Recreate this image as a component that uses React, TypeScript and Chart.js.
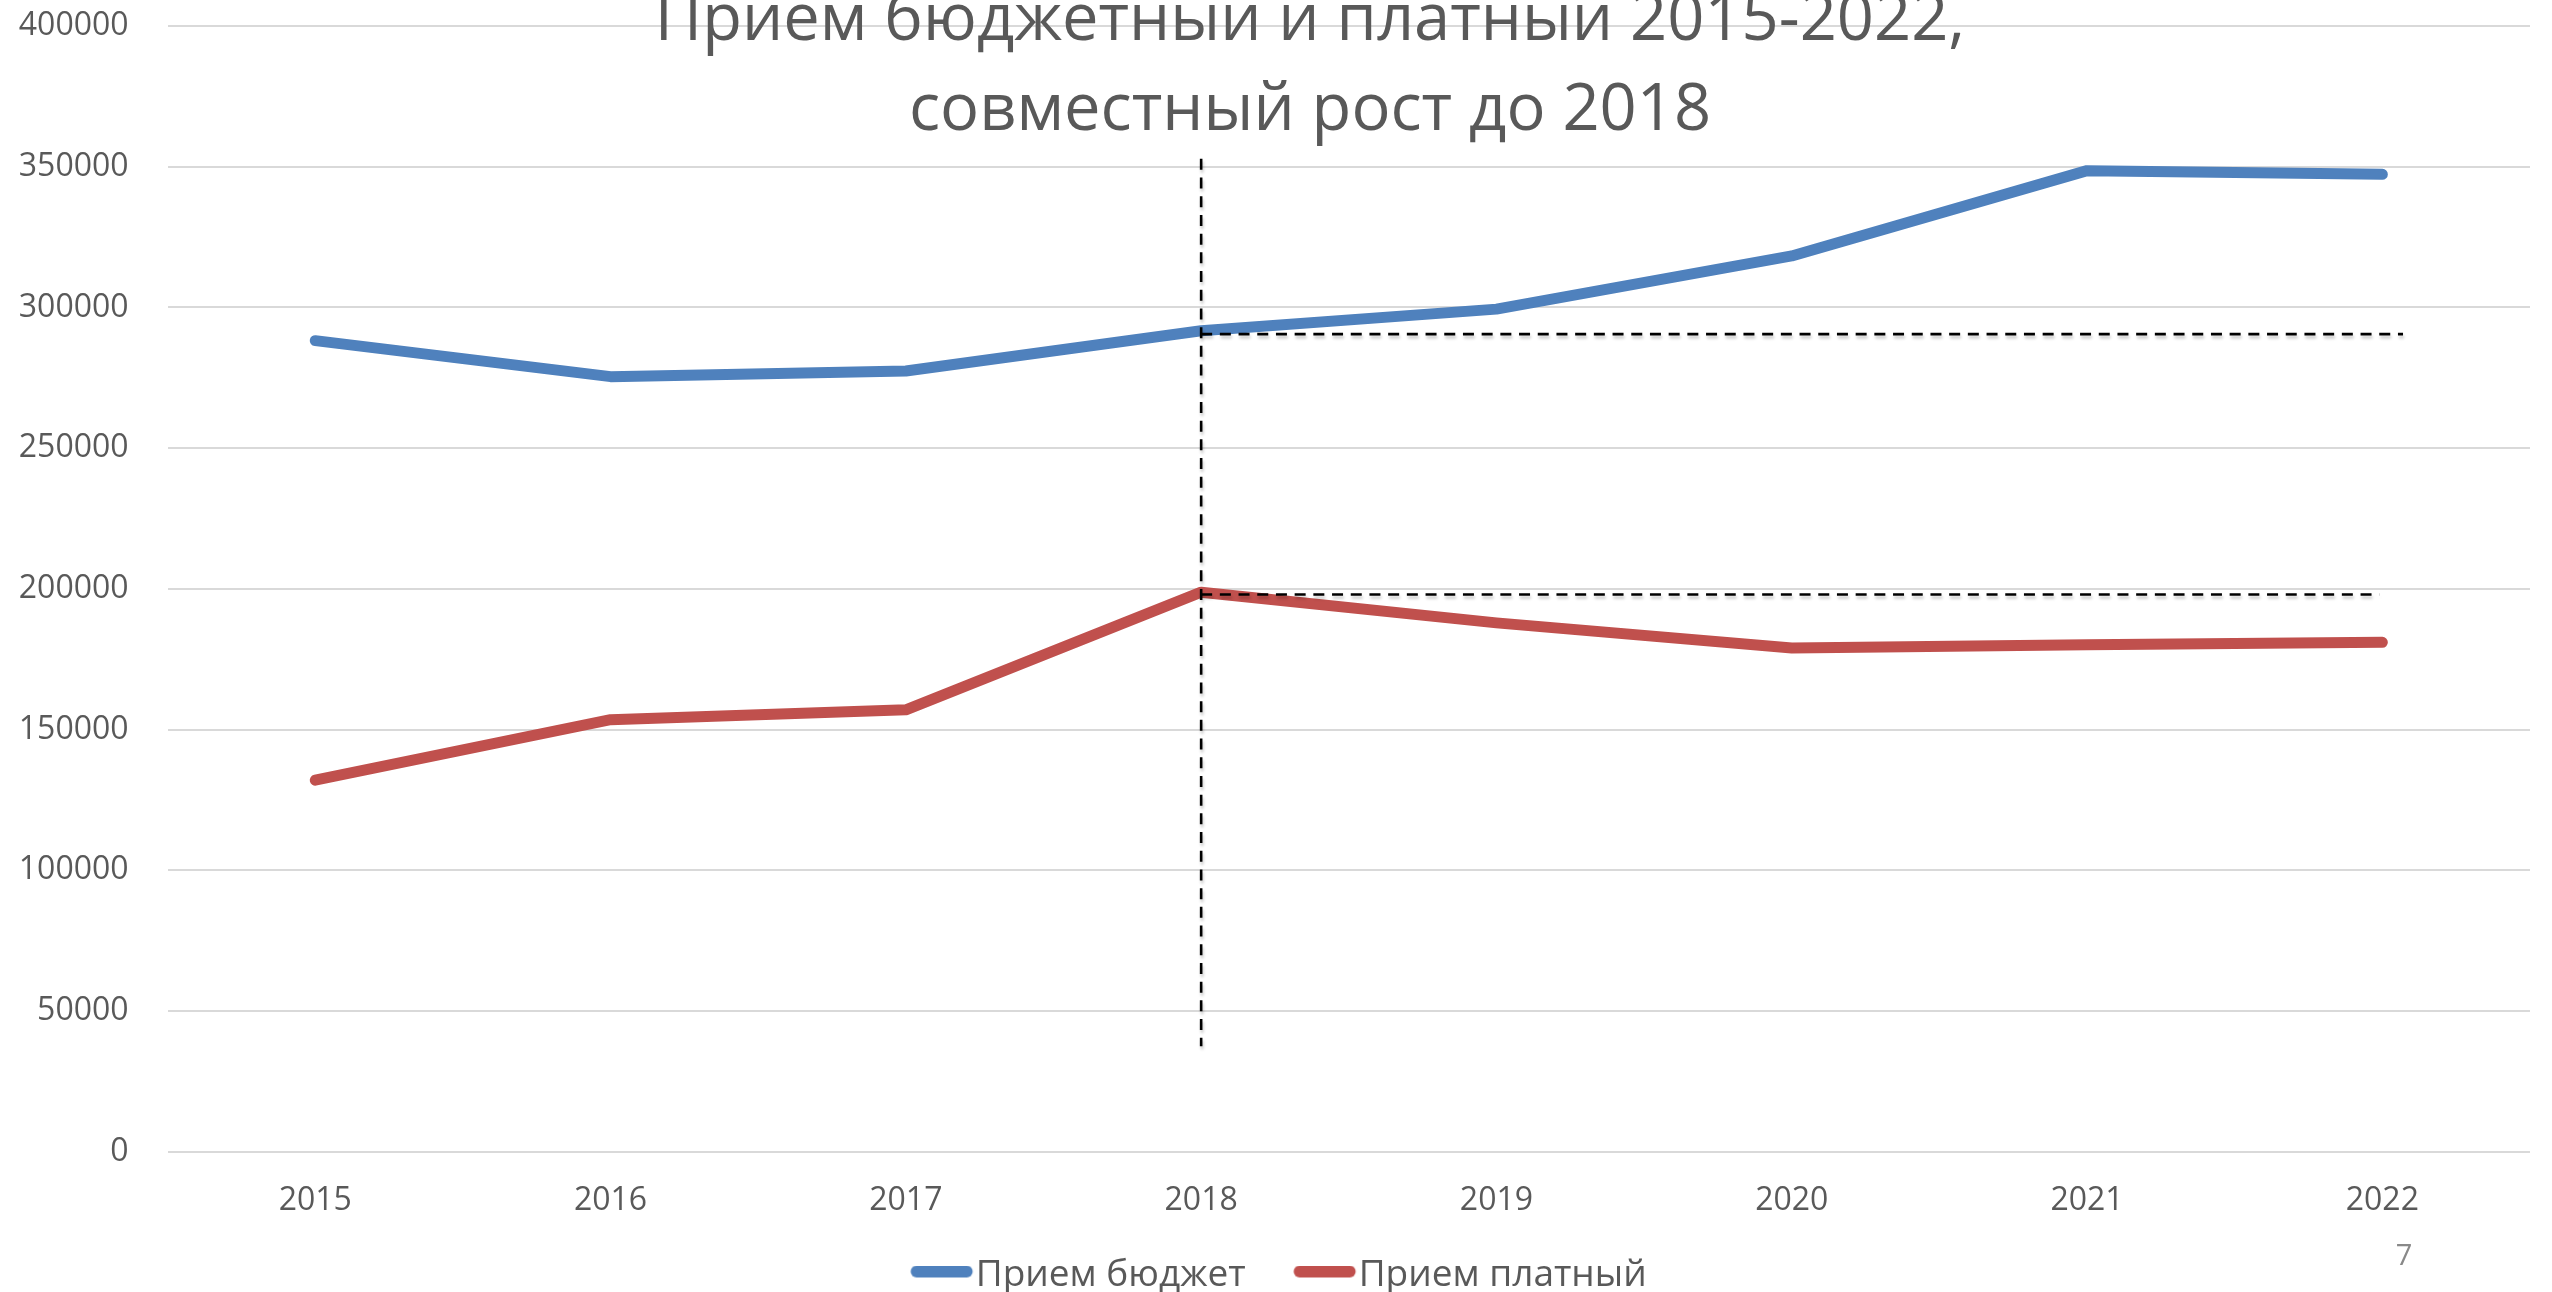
import React, { useEffect, useRef } from "react";
import { Chart, registerables } from "chart.js";

Chart.register(...registerables);

// ---- data ----
const years = ["2015", "2016", "2017", "2018", "2019", "2020", "2021", "2022"];
const budgetIntake = [288200, 275400, 277400, 291700, 299400, 318300, 348600, 347300];
const paidIntake = [132000, 153500, 157000, 198800, 187900, 179000, 180100, 181000];
const seriesNames = ["Прием бюджет", "Прием платный"];
const seriesColors = ["#4f81bd", "#c0504d"];
const titleLines = ["Прием бюджетный и платный 2015-2022,", "совместный рост до 2018"];
const yMin = 0;
const yMax = 400000;
const yStep = 50000;
// dashed guides (data units): vertical at category index of 2018, horizontal levels
const guideVerticalIndex = [3];
const guideVerticalRange = [37500, 352800];
const guideLevels = [290500, 198000];
const guideLevelEnds = [7.07, 6.99];
const pageNumber = "7";

const FONT = "'Open Sans', 'DejaVu Sans', sans-serif";
const TEXT = "#595959";

function makeLegendSymbol(color: string): HTMLCanvasElement {
  const c = document.createElement("canvas");
  c.width = 100;
  c.height = 20;
  const g = c.getContext("2d")!;
  g.strokeStyle = color;
  g.lineWidth = 12;
  g.lineCap = "round";
  g.beginPath();
  g.moveTo(39.45, 6);
  g.lineTo(89.45, 6);
  g.stroke();
  return c;
}

const overlayPlugin = {
  id: "overlayPlugin",
  afterDatasetsDraw(chart: any) {
    const { ctx, scales } = chart;
    const x = scales.x;
    const y = scales.y;
    ctx.save();
    ctx.strokeStyle = "#000000";
    ctx.lineWidth = 2.6;
    ctx.setLineDash([11, 7.7]);
    ctx.shadowColor = "rgba(0,0,0,0.22)";
    ctx.shadowBlur = 3;
    ctx.shadowOffsetX = 1;
    ctx.shadowOffsetY = 3;
    const gx = x.getPixelForValue(guideVerticalIndex[0]);
    ctx.beginPath();
    ctx.moveTo(gx, y.getPixelForValue(guideVerticalRange[1]));
    ctx.lineTo(gx, y.getPixelForValue(guideVerticalRange[0]));
    ctx.stroke();
    guideLevels.forEach((v, i) => {
      const py = y.getPixelForValue(v);
      ctx.beginPath();
      ctx.moveTo(gx, py);
      ctx.lineTo(x.getPixelForValue(guideLevelEnds[i]), py);
      ctx.stroke();
    });
    ctx.restore();
  },
  afterDraw(chart: any) {
    const { ctx } = chart;
    ctx.save();
    ctx.fillStyle = TEXT;
    ctx.textAlign = "center";
    ctx.textBaseline = "alphabetic";
    ctx.font = `65px ${FONT}`;
    ctx.fillText(titleLines[0], 1310, 40);
    ctx.fillText(titleLines[1], 1310, 130);
    ctx.fillStyle = "#898989";
    ctx.font = `29px ${FONT}`;
    ctx.fillText(pageNumber, 2404, 1265);
    ctx.restore();
  },
};

export default function App() {
  const ref = useRef<HTMLCanvasElement | null>(null);

  useEffect(() => {
    if (!ref.current) return;
    const symbols = seriesColors.map(makeLegendSymbol);
    const chart = new Chart(ref.current, {
      type: "line",
      data: {
        labels: years,
        datasets: [
          {
            label: seriesNames[0],
            data: budgetIntake,
            borderColor: seriesColors[0],
            backgroundColor: seriesColors[0],
            borderWidth: 11,
            borderCapStyle: "round",
            borderJoinStyle: "round",
            pointRadius: 0,
            tension: 0,
          },
          {
            label: seriesNames[1],
            data: paidIntake,
            borderColor: seriesColors[1],
            backgroundColor: seriesColors[1],
            borderWidth: 11,
            borderCapStyle: "round",
            borderJoinStyle: "round",
            pointRadius: 0,
            tension: 0,
          },
        ],
      },
      options: {
        responsive: false,
        animation: false,
        devicePixelRatio: 1,
        layout: { padding: { left: 14, right: 22, top: 26, bottom: 0 } },
        plugins: {
          title: { display: false },
          tooltip: { enabled: false },
          legend: {
            position: "bottom",
            align: "center",
            labels: {
              usePointStyle: true,
              pointStyleWidth: 59.9,
              padding: 34.6,
              color: TEXT,
              font: { family: FONT, size: 37 },
              generateLabels: (c: any) =>
                (Chart.defaults.plugins.legend.labels as any)
                  .generateLabels(c)
                  .map((item: any, i: number) => ({ ...item, pointStyle: symbols[i] })),
            },
          },
        },
        scales: {
          x: {
            type: "category",
            offset: true,
            grid: { display: false, drawTicks: false },
            border: { display: false },
            ticks: {
              color: TEXT,
              font: { family: FONT, size: 32 },
              padding: 30,
              maxRotation: 0,
              autoSkip: false,
            },
            afterFit: (s: any) => {
              s.height = 70.7;
            },
          },
          y: {
            min: yMin,
            max: yMax,
            grid: { color: "#d9d9d9", lineWidth: 2, drawTicks: false },
            border: { display: false },
            ticks: {
              stepSize: yStep,
              color: TEXT,
              font: { family: FONT, size: 32 },
              padding: 39,
              callback: (v: any) => String(v),
            },
            afterFit: (s: any) => {
              s.width = 153.6;
              s.paddingTop = 0;
              s.paddingBottom = 0;
            },
          },
        },
      },
      plugins: [overlayPlugin],
    } as any);
    return () => chart.destroy();
  }, []);

  return (
    <div style={{ position: "fixed", left: 0, top: 0, width: 2552, height: 1304, background: "#fff" }}>
      <canvas ref={ref} width={2552} height={1304} style={{ width: 2552, height: 1304, display: "block" }} />
    </div>
  );
}
